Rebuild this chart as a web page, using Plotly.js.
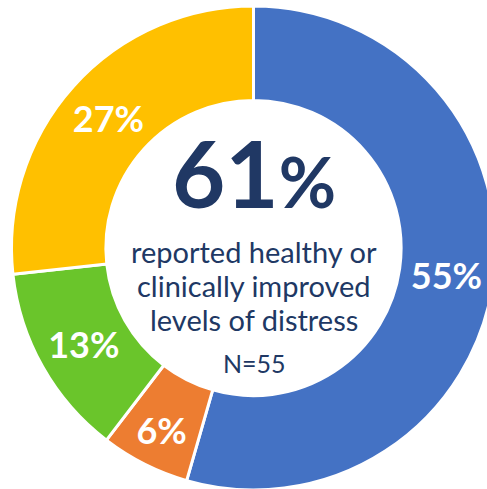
<!DOCTYPE html>
<html>
<head>
<meta charset="utf-8">
<script src="https://cdn.plot.ly/plotly-3.0.1.min.js"></script>
<style>
html,body{margin:0;padding:0;overflow:hidden;background:#fff;}
#chart{width:500px;height:492px;}
</style>
</head>
<body>
<div id="chart"></div>
<script>
const categories = ["Healthy", "Clinically improved", "Unchanged", "Worsened"];
const values = [55, 6, 13, 27];
const labelsText = ["55%", "6%", "13%", "27%"];
const colors = ["#4472C4", "#ED7D31", "#6AC52B", "#FFC000"];
const centerLines = ["reported healthy or", "clinically improved", "levels of distress"];

const W = 500, H = 492;
const cx = 253.5, cy = 248, R = 242;

const trace = {
  type: "pie",
  labels: categories,
  values: values,
  text: labelsText,
  textinfo: "text",
  texttemplate: "%{text}",
  textposition: "inside",
  insidetextorientation: "horizontal",
  sort: false,
  direction: "clockwise",
  rotation: 0,
  hole: 0.61,
  marker: {colors: colors, line: {color: "#ffffff", width: 3}},
  textfont: {family: "Lato, sans-serif", size: 36, color: "#ffffff", weight: "bold"},
  domain: {x: [(cx - R) / W, (cx + R) / W], y: [(H - cy - R) / H, (H - cy + R) / H]},
  showlegend: false,
  hoverinfo: "none"
};

const navy = "#203864";
const annotations = [
  {xref: "paper", yref: "paper", x: 254 / W, y: 1 - 172 / H, xanchor: "center", yanchor: "middle",
   showarrow: false, text: "<b>61<span style='font-size:70px'>%</span></b>",
   font: {family: "Lato, sans-serif", size: 92, color: navy}},
  {xref: "paper", yref: "paper", x: 254 / W, y: 1 - 363 / H, xanchor: "center", yanchor: "middle",
   showarrow: false, text: "N=55",
   font: {family: "Lato, sans-serif", size: 25, color: navy}}
];
const lineY = [251, 285, 319];
centerLines.forEach((t, i) => {
  annotations.push({xref: "paper", yref: "paper", x: 254 / W, y: 1 - lineY[i] / H,
    xanchor: "center", yanchor: "middle", showarrow: false, text: t,
    font: {family: "Lato, sans-serif", size: 29, color: navy}});
});

const layout = {
  width: W, height: H,
  margin: {l: 0, r: 0, t: 0, b: 0},
  paper_bgcolor: "#ffffff",
  showlegend: false,
  annotations: annotations
};

Plotly.newPlot("chart", [trace], layout, {displayModeBar: false, staticPlot: true});
</script>
</body>
</html>
